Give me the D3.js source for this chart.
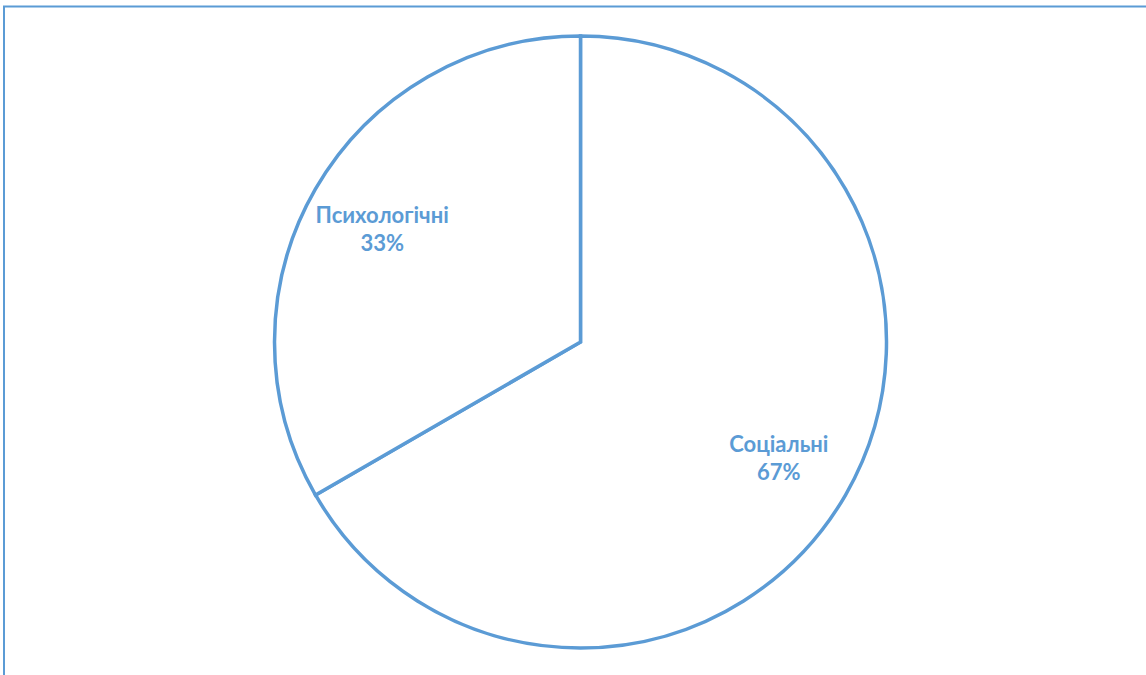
<!DOCTYPE html>
<html>
<head>
<meta charset="utf-8">
<script src="https://cdn.jsdelivr.net/npm/d3@7"></script>
<style>
  html, body { margin: 0; padding: 0; background: #fff; }
  svg { display: block; }
</style>
</head>
<body>
<svg id="chart" width="1146" height="675"></svg>
<script>
const categories = ["Соціальні", "Психологічні"];
const values = [2, 1];
const percentLabels = ["67%", "33%"];

const W = 1146, H = 675;
const color = "#5B9BD5";
const cx = 580.5, cy = 342, R = 306;

const svg = d3.select("#chart");

// chart frame (left and top edges visible)
svg.append("line").attr("x1", 4).attr("y1", 6.5).attr("x2", 4).attr("y2", H)
  .attr("stroke", color).attr("stroke-width", 2);
svg.append("line").attr("x1", 3).attr("y1", 6.5).attr("x2", W).attr("y2", 6.5)
  .attr("stroke", color).attr("stroke-width", 2);

const data = categories.map((c, i) => ({ name: c, value: values[i], pct: percentLabels[i] }));

const pie = d3.pie().value(d => d.value).sort(null).startAngle(0).endAngle(2 * Math.PI);
const arcs = pie(data);
const arc = d3.arc().innerRadius(0).outerRadius(R);
const labelArc = d3.arc().innerRadius(229).outerRadius(229);

const g = svg.append("g").attr("transform", `translate(${cx},${cy})`);

g.selectAll("path.slice").data(arcs).join("path")
  .attr("class", "slice")
  .attr("d", arc)
  .attr("fill", "#fff")
  .attr("stroke", color)
  .attr("stroke-width", 3.5)
  .attr("stroke-linejoin", "miter");

const labels = g.selectAll("text.lbl").data(arcs).join("text")
  .attr("class", "lbl")
  .attr("transform", d => { const [x, y] = labelArc.centroid(d); return `translate(${x},${y})`; })
  .attr("text-anchor", "middle")
  .attr("fill", color)
  .attr("font-family", "Lato, 'Open Sans', sans-serif")
  .attr("font-weight", "bold")
  .attr("font-size", "22px");

labels.append("tspan").attr("x", 0).attr("y", -5).text(d => d.data.name);
labels.append("tspan").attr("x", 0).attr("y", 23).text(d => d.data.pct);
</script>
</body>
</html>
